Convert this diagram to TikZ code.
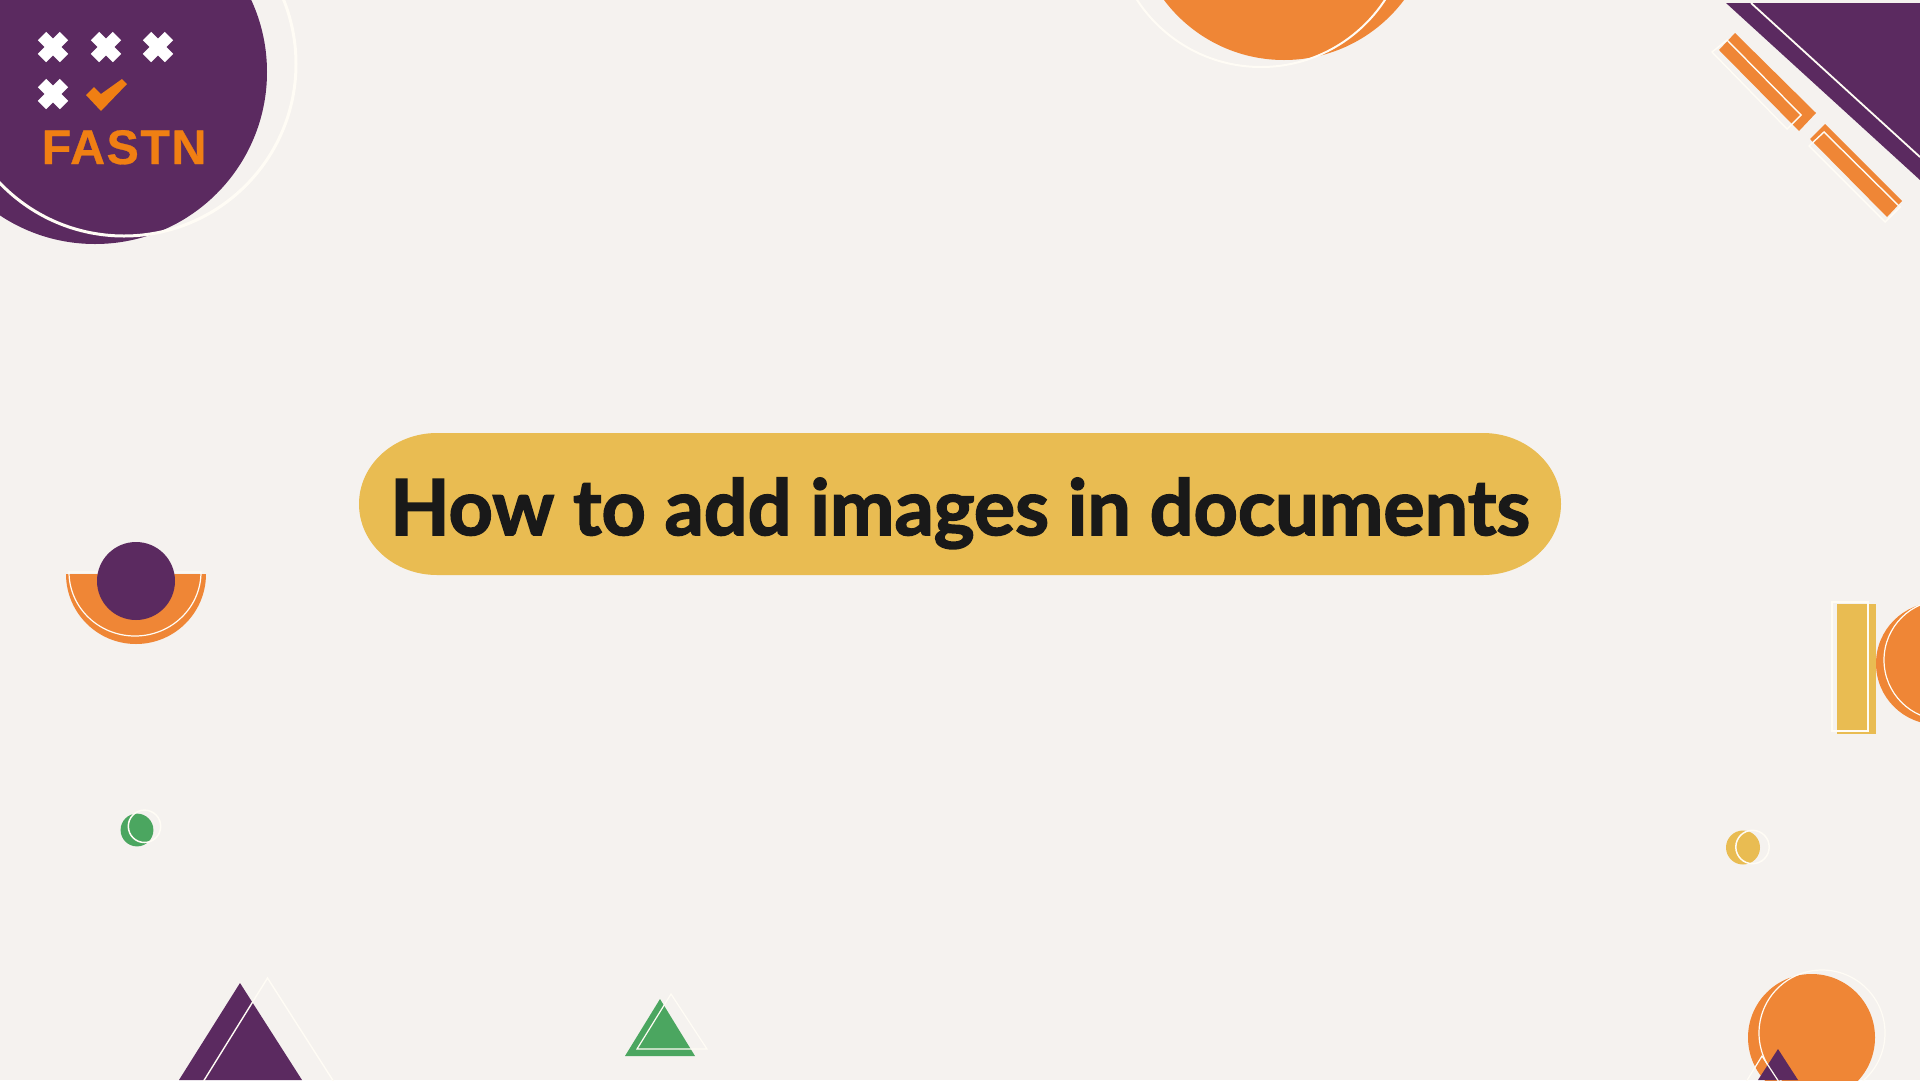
\documentclass[tikz,border=0pt]{standalone}
\usepackage{fontspec}
\setmainfont{Lato}
\newfontfamily\titlefont[FakeBold=2]{Lato Bold}
\newfontfamily\logofont[LetterSpace=3,FakeBold=0.6]{Liberation Sans Bold}
\definecolor{pagebg}{HTML}{F5F2EF}
\definecolor{fastnpurple}{HTML}{5B2A60}
\definecolor{fastnorange}{HTML}{EF8636}
\definecolor{logoorange}{HTML}{F07F13}
\definecolor{fastnyellow}{HTML}{E9BC52}
\definecolor{fastngreen}{HTML}{4BA660}
\definecolor{creamline}{HTML}{FFFCF5}
\tikzset{
    x=1pt,
    y=-1pt,
    purplefill/.style={fill=fastnpurple},
    orangefill/.style={fill=fastnorange},
    yellowfill/.style={fill=fastnyellow},
    greenfill/.style={fill=fastngreen},
    outline/.style={draw=creamline,line width=1.4pt},
    thinoutline/.style={draw=creamline,line width=1.2pt},
    xmark/.style={draw=white,line width=12pt}
}
\begin{document}
\begin{tikzpicture}
    \clip (0,0) rectangle (1920,1080);
    \fill[pagebg] (0,0) rectangle (1920,1080);

    \fill[purplefill] (95,72) circle [radius=172];
    \draw[outline,line width=3pt] (124,64) circle [radius=172];
    \foreach \cx/\cy in {53/47,106/47,158/47,53/94} {
        \draw[xmark] (\cx-11,\cy-11) -- (\cx+11,\cy+11);
        \draw[xmark] (\cx-11,\cy+11) -- (\cx+11,\cy-11);
    }
    \fill[logoorange] (86,95) -- (94,87) -- (101,94) -- (122,79) -- (127,84) -- (101,111) -- cycle;
    \node[text=logoorange,inner sep=0pt,anchor=base west] (logotext) at (41.5,164) {\logofont\fontsize{48.5}{48.5}\selectfont FASTN};

    \fill[orangefill] (1284,-90) circle [radius=150];
    \draw[outline,line width=2pt] (1261,-81) circle [radius=148];

    \fill[purplefill] (1726,3) -- (1920,180) -- (1920,3) -- cycle;
    \draw[draw=creamline,line width=1.8pt] (1751,3) -- (1920,157);
    \fill[orangefill] (1735,33) -- (1719,50) -- (1799,131) -- (1816,113) -- cycle;
    \draw[outline] (1727,40) -- (1712,52) -- (1787,129) -- (1801,115) -- cycle;
    \fill[orangefill] (1825,124) -- (1810,139) -- (1887,217) -- (1902,201) -- cycle;
    \draw[outline] (1824,132) -- (1809,146) -- (1885,222) -- (1900,207) -- cycle;

    \fill[orangefill] (66,574) arc [start angle=180,end angle=360,x radius=70,y radius=-70] -- cycle;
    \draw[thinoutline] (69,572) arc [start angle=180,end angle=360,x radius=66,y radius=-64] -- cycle;
    \fill[purplefill] (136,581) circle [radius=39];

    \fill[greenfill] (137,830) circle [radius=16.4];
    \draw[thinoutline,line width=1.5pt] (144.5,826.3) circle [radius=16.2];

    \fill[yellowfill] (1837,604) rectangle (1876,734);
    \draw[thinoutline] (1832,602) rectangle (1868,731);
    \fill[orangefill] (1937,663.5) circle [radius=61];
    \draw[thinoutline] (1944,660) circle [radius=60];

    \fill[yellowfill] (1743,847.5) circle [radius=17];
    \draw[thinoutline,line width=1.5pt] (1752.5,847) circle [radius=16.7];

    \fill[orangefill] (1811.5,1037.5) circle [radius=63.5];
    \draw[thinoutline] (1822,1033) circle [radius=63];
    \fill[purplefill] (1778,1049) -- (1758,1080) -- (1798,1080) -- cycle;
    \draw[thinoutline] (1746,1082) -- (1762,1056) -- (1779,1082);

    \fill[purplefill] (240,983) -- (179,1080) -- (302,1080) -- cycle;
    \draw[outline] (203,1082) -- (267.5,978) -- (334,1082);

    \fill[greenfill] (660,999) -- (625,1056) -- (695,1056) -- cycle;
    \draw[thinoutline] (671,994) -- (637,1049) -- (707,1049) -- cycle;

    \fill[yellowfill] (437,433) -- (1483,433)
        arc [start angle=90,end angle=-90,x radius=78,y radius=-71]
        -- (437,575)
        arc [start angle=270,end angle=90,x radius=78,y radius=-71] -- cycle;
    \node[text=black!90,inner sep=0pt,anchor=base,font=\titlefont\fontsize{77.2}{77.2}\selectfont] (title) at (960,535) {How to add images in documents};
\end{tikzpicture}
\end{document}
